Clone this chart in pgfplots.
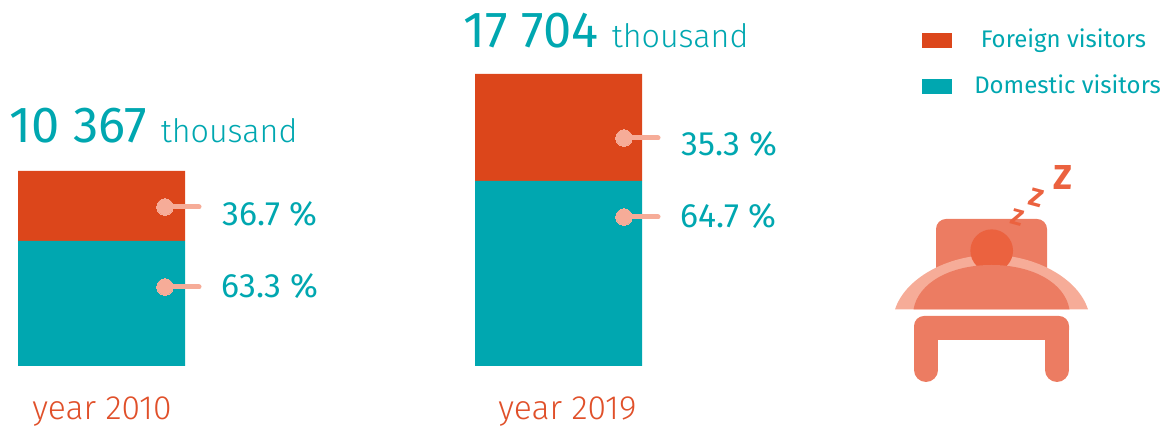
\documentclass[border=0pt]{standalone}
\usepackage{pgfplots}
\pgfplotsset{compat=1.18}
\usepackage{fontspec}
\setmainfont{Fira Sans}
\newfontfamily\lightf{Fira Sans Light}
\newfontfamily\boldf{Fira Sans Bold}
\definecolor{orangeb}{HTML}{DC461B}
\definecolor{tealb}{HTML}{00A7B0}
\definecolor{pale}{HTML}{F6AC98}
\definecolor{iconc}{HTML}{EC7C62}
\definecolor{headc}{HTML}{EB623F}
\definecolor{yearc}{HTML}{E0502A}
\newcommand{\lbl}[5]{\node[anchor=base west,inner sep=0pt,text=#4,font=#5] at (axis cs:#1,{366-#2}) {#3};}
\pgfplotsset{base/.style={scale only axis, width=873pt, height=318.75pt,
  xmin=0, xmax=1164, ymin=-59, ymax=366, hide axis, clip=false}}
\begin{document}
\begin{tikzpicture}
\begin{axis}[base, ybar stacked, bar width=167]
\path (axis cs:0,-59) rectangle (axis cs:1164,366);
\addplot[fill=tealb,draw=none] coordinates {(101.5,125) (558.5,185)};
\addplot[fill=orangeb,draw=none] coordinates {(101.5,70) (558.5,107)};
\end{axis}
\begin{axis}[base]
\addplot[pale,line width=3.75pt,line cap=round] coordinates {(165,159) (199,159)};
\addplot[pale,line width=3.75pt,line cap=round] coordinates {(165,79) (199,79)};
\addplot[pale,line width=3.75pt,line cap=round] coordinates {(624,228) (658,228)};
\addplot[pale,line width=3.75pt,line cap=round] coordinates {(624,149) (658,149)};
\addplot[only marks,mark=*,mark size=6.2pt,mark options={fill=pale,draw=pale,line width=0pt}] coordinates {(165,159) (165,79) (624,228) (624,149)};
\lbl{9.5}{143}{10 367}{tealb}{\fontsize{38}{38}\selectfont}
\lbl{160.5}{142.5}{thousand}{tealb}{\lightf\fontsize{24.2}{26}\selectfont}
\lbl{463}{48}{17 704}{tealb}{\fontsize{38}{38}\selectfont}
\lbl{611.5}{47.5}{thousand}{tealb}{\lightf\fontsize{24.2}{26}\selectfont}
\lbl{222.5}{225.5}{36.7 \%}{tealb}{\fontsize{25.3}{26}\selectfont}
\lbl{221.5}{297.5}{63.3 \%}{tealb}{\fontsize{25.3}{26}\selectfont}
\lbl{681.5}{155.5}{35.3 \%}{tealb}{\fontsize{25.3}{26}\selectfont}
\lbl{680.5}{227.5}{64.7 \%}{tealb}{\fontsize{25.3}{26}\selectfont}
\lbl{32}{420}{year 2010}{yearc}{\lightf\fontsize{25.2}{25}\selectfont}
\lbl{498}{420}{year 2019}{yearc}{\lightf\fontsize{25.2}{25}\selectfont}
\lbl{980.5}{48}{Foreign visitors}{tealb}{\fontsize{18}{18}\selectfont}
\lbl{974}{94}{Domestic visitors}{tealb}{\fontsize{18}{18}\selectfont}
\begin{scope}[shift={(axis cs:0,366)},x=0.75pt,y=-0.75pt]
  \fill[orangeb] (922,33) rectangle (952,48);
  \fill[tealb] (922,79) rectangle (952,94);
  \fill[iconc,rounded corners=7.5pt] (936,290) -- (936,219) -- (1047,219) -- (1047,290) -- cycle;
  \fill[pale] (895,309.5) .. controls (905,278) and (948,255) .. (991.5,255) .. controls (1035,255) and (1078,278) .. (1088,309.5) -- cycle;
  \fill[headc] (991.7,250.7) circle[radius=16pt];
  \fill[iconc] (913.5,309.5) .. controls (918,283) and (950,265) .. (991.5,265) .. controls (1033,265) and (1065,283) .. (1069.5,309.5) -- cycle;
  \fill[iconc,rounded corners=7.5pt] (914,340) -- (914,316) -- (1069,316) -- (1069,340) -- cycle;
  \fill[iconc] (914,330) rectangle (938,370);
  \fill[iconc] (1045,330) rectangle (1069,370);
  \fill[iconc] (926,370) circle[radius=9pt];
  \fill[iconc] (1057,370) circle[radius=9pt];
  \node[text=headc,font=\boldf\fontsize{26}{26}\selectfont,inner sep=0pt] at (1063,177) {Z};
  \node[text=headc,font=\boldf\fontsize{19}{19}\selectfont,inner sep=0pt,rotate=-15] at (1036,198) {Z};
  \node[text=headc,font=\boldf\fontsize{17}{17}\selectfont,inner sep=0pt,rotate=-15] at (1017,218) {Z};
\end{scope}
\end{axis}
\end{tikzpicture}
\end{document}
